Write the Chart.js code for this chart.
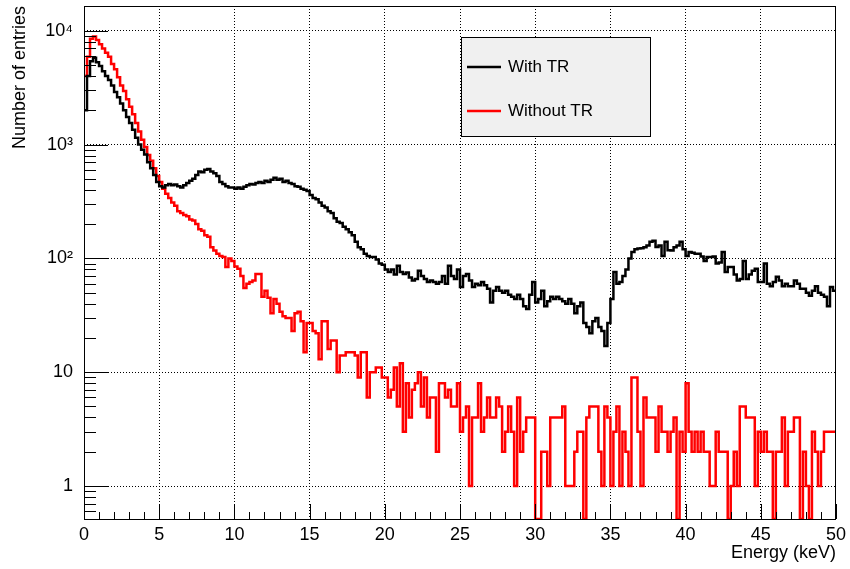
<!DOCTYPE html>
<html>
<head>
<meta charset="utf-8">
<script src="https://cdn.jsdelivr.net/npm/chart.js@4/dist/chart.umd.min.js"></script>
<style>
  body { margin: 0; background: #fff; }
  canvas { display: block; }
</style>
</head>
<body>
<canvas id="espectro" width="850" height="569"></canvas>
<script>
// Histograma de energía, 250 bins de 0.2 keV entre 0 y 50 keV
const ANCHO_BIN = 0.2;

// Con radiación de transición (negro)
const conTR = [
  2000, 4000, 5400, 5800, 5300, 4900, 4400, 4000, 3700, 3300,
  2900, 2600, 2300, 2000, 1750, 1550, 1350, 1150, 1000, 900,
  820, 700, 620, 540, 470, 430, 420, 440, 450, 440,
  445, 430, 420, 440, 460, 480, 500, 540, 580, 570,
  600, 610, 580, 560, 530, 470, 450, 430, 420, 420,
  410, 420, 410, 425, 440, 450, 445, 460, 470, 460,
  480, 470, 490, 510, 490, 500, 470, 480, 460, 450,
  430, 425, 410, 400, 390, 360, 340, 330, 310, 290,
  280, 260, 250, 225, 210, 205, 190, 180, 170, 160,
  140, 125, 120, 110, 105, 103, 103, 98, 90, 88,
  80, 76, 80, 72, 86, 76, 73, 75, 68, 64,
  66, 78, 70, 66, 62, 64, 62, 60, 62, 70,
  60, 86, 70, 66, 80, 56, 70, 73, 64, 56,
  60, 58, 62, 58, 54, 41, 52, 56, 52, 50,
  52, 48, 46, 44, 48, 44, 38, 36, 48, 62,
  41, 44, 52, 38, 42, 46, 44, 46, 44, 42,
  40, 44, 40, 33, 38, 41, 27, 25, 22, 28,
  30, 25, 23, 17, 27, 44, 76, 60, 62, 70,
  80, 100, 114, 120, 122, 123, 125, 130, 140, 143,
  126, 130, 105, 140, 118, 117, 125, 130, 140, 120,
  105, 114, 112, 110, 110, 104, 95, 103, 103, 104,
  90, 92, 114, 76, 84, 84, 72, 64, 66, 95,
  66, 72, 78, 81, 62, 62, 90, 60, 57, 62,
  69, 64, 57, 60, 57, 57, 64, 60, 54, 54,
  50, 47, 52, 57, 50, 48, 46, 38, 56, 52
];

// Sin radiación de transición (rojo)
const sinTR = [
  4000, 5900, 8500, 8900, 8300, 7600, 7000, 6400, 5900, 5100,
  4600, 3900, 3300, 2950, 2500, 2150, 1850, 1550, 1300, 1100,
  950, 810, 720, 620, 530, 470, 410, 370, 340, 310,
  290, 260, 250, 240, 235, 220, 215, 200, 180, 175,
  160, 155, 125, 117, 110, 105, 103, 84, 100, 95,
  85, 81, 70, 55, 60, 62, 64, 73, 73, 46,
  52, 45, 33, 44, 40, 34, 31, 30, 30, 23,
  33, 34, 28, 15, 27, 27, 23, 22, 13, 28,
  28, 16, 19, 19, 10, 14, 14, 15, 15, 15,
  14, 9, 15, 15, 6, 10, 10, 11, 11, 9,
  9, 6, 7, 11, 5, 12, 3, 8, 4, 7,
  8, 10, 5, 9, 4, 6, 6, 2, 8, 8,
  6, 7, 5, 5, 8, 3, 4, 5, 1, 4,
  4, 8, 3, 4, 6, 4, 4, 6, 5, 2,
  3, 5, 3, 1, 6, 2, 3, 4, 4, 4,
  0, 0, 2, 2, 1, 4, 4, 4, 4, 5,
  1, 1, 1, 2, 3, 3, 0, 4, 5, 5,
  5, 2, 1, 5, 4, 1, 3, 5, 1, 3,
  2, 1, 9, 9, 3, 1, 6, 4, 4, 4,
  2, 5, 3, 3, 2, 3, 4, 0, 3, 2,
  8, 3, 2, 3, 2, 3, 2, 2, 1, 1,
  3, 2, 2, 2, 0, 1, 2, 1, 5, 5,
  4, 4, 4, 1, 3, 2, 3, 2, 2, 0,
  2, 2, 4, 1, 3, 3, 4, 4, 0, 2,
  1, 0, 3, 2, 1, 2, 3, 3, 3, 3
];

const ticksX = [0, 5, 10, 15, 20, 25, 30, 35, 40, 45, 50];
const ticksY = [1, 10, 100, 1000, 10000];
const etiquetasY = ['1', '10', '10²', '10³', '10⁴'];
const Y_MIN = 0.513;
const Y_MAX = 16500;
const FUENTE = '"Liberation Sans", Arial, Helvetica, sans-serif';

// pasa los conteos a puntos en el borde inferior de cada bin (escalones)
function aEscalones(conteos) {
  const puntos = conteos.map((c, i) => ({ x: i * ANCHO_BIN, y: c > 0 ? c : Y_MIN }));
  puntos.push({ x: conteos.length * ANCHO_BIN, y: puntos[puntos.length - 1].y });
  return puntos;
}

// marco, marcas hacia adentro y leyenda estilo ROOT
const marcoRoot = {
  id: 'marcoRoot',
  afterDatasetsDraw(chart) {
    const { ctx, chartArea: a, scales: { x, y } } = chart;
    ctx.save();
    ctx.strokeStyle = '#000';
    ctx.lineWidth = 1;
    ctx.beginPath();
    for (let e = 0; e <= 50; e++) {
      const px = Math.round(x.getPixelForValue(e)) + 0.5;
      const largo = e % 5 === 0 ? 15 : 7;
      ctx.moveTo(px, a.bottom);
      ctx.lineTo(px, a.bottom - largo);
    }
    for (let d = -1; d <= 4; d++) {
      for (let m = 1; m <= 9; m++) {
        const v = m * Math.pow(10, d);
        if (v < Y_MIN || v > Y_MAX) continue;
        const py = Math.round(y.getPixelForValue(v)) + 0.5;
        const largo = m === 1 ? 24 : 12;
        ctx.moveTo(a.left, py);
        ctx.lineTo(a.left + largo, py);
      }
    }
    ctx.stroke();
    ctx.strokeRect(a.left + 0.5, a.top + 0.5, a.right - a.left - 1, a.bottom - a.top);

    // leyenda
    ctx.fillStyle = '#f0f0f0';
    ctx.fillRect(461, 37, 189, 99);
    ctx.strokeRect(461.5, 37.5, 189, 99);
    ctx.font = '17px ' + FUENTE;
    ctx.textBaseline = 'middle';
    chart.data.datasets.forEach((ds, i) => {
      const yy = 67 + i * 44;
      ctx.strokeStyle = ds.borderColor;
      ctx.lineWidth = 2.5;
      ctx.beginPath();
      ctx.moveTo(467, yy);
      ctx.lineTo(501, yy);
      ctx.stroke();
      ctx.fillStyle = '#000';
      ctx.fillText(ds.label, 508, yy);
    });
    ctx.restore();
  }
};

new Chart(document.getElementById('espectro'), {
  type: 'line',
  data: {
    datasets: [
      {
        label: 'With TR',
        data: aEscalones(conTR),
        borderColor: '#000000',
        borderWidth: 2.5,
        pointRadius: 0,
        stepped: 'before',
        fill: false
      },
      {
        label: 'Without TR',
        data: aEscalones(sinTR),
        borderColor: '#ff0000',
        borderWidth: 2.5,
        pointRadius: 0,
        stepped: 'before',
        fill: false
      }
    ]
  },
  options: {
    responsive: false,
    animation: false,
    events: [],
    layout: { padding: { left: 0, right: 14, top: 6, bottom: 0 } },
    plugins: { legend: { display: false }, tooltip: { enabled: false } },
    scales: {
      x: {
        type: 'linear',
        min: 0,
        max: 50,
        afterBuildTicks: s => { s.ticks = ticksX.map(v => ({ value: v })); },
        afterFit: s => { s.height = 50; s.paddingLeft = 0; s.paddingRight = 0; },
        ticks: { font: { family: FUENTE, size: 18 }, color: '#000', padding: 5, maxRotation: 0 },
        grid: {
          drawTicks: false,
          color: c => (c.tick && (c.tick.value === 0 || c.tick.value === 50)) ? 'rgba(0,0,0,0)' : '#000'
        },
        border: { display: false, dash: [1, 2] },
        title: {
          display: true,
          text: 'Energy (keV)',
          align: 'end',
          font: { family: FUENTE, size: 18 },
          color: '#000',
          padding: { top: 0, bottom: 5 }
        }
      },
      y: {
        type: 'logarithmic',
        min: Y_MIN,
        max: Y_MAX,
        afterBuildTicks: s => { s.ticks = ticksY.map(v => ({ value: v })); },
        afterFit: s => { s.width = 84; s.paddingTop = 0; s.paddingBottom = 0; },
        ticks: {
          font: { family: FUENTE, size: 18 },
          color: '#000',
          padding: 11,
          callback: v => etiquetasY[ticksY.indexOf(v)]
        },
        grid: { drawTicks: false, color: '#000' },
        border: { display: false, dash: [1, 2] },
        title: {
          display: true,
          text: 'Number of entries',
          align: 'end',
          font: { family: FUENTE, size: 18 },
          color: '#000',
          padding: { top: 9, bottom: 0 }
        }
      }
    }
  },
  plugins: [marcoRoot]
});
</script>
</body>
</html>
